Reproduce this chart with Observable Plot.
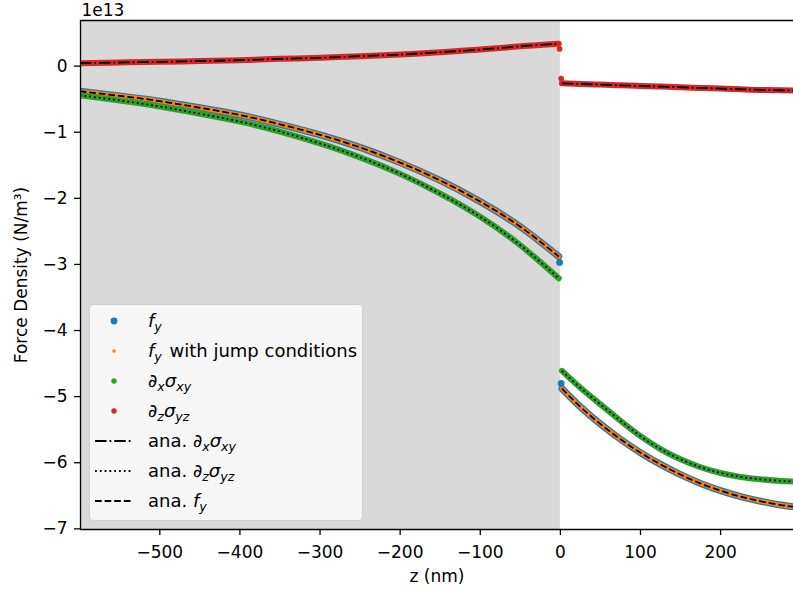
<!DOCTYPE html>
<html>
<head>
<meta charset="utf-8">
<script src="https://cdn.jsdelivr.net/npm/d3@7"></script>
<script src="https://cdn.jsdelivr.net/npm/@observablehq/plot@0.6"></script>
<style>
  html, body { margin: 0; padding: 0; background: #fff; }
  body { font-family: "DejaVu Sans", sans-serif; }
  #wrap { position: relative; width: 793px; height: 589px; overflow: hidden; }
  #legend { position: absolute; left: 89px; top: 304px; width: 274px; height: 217px;
            background: #f7f7f7; border: 1px solid #cfcfcf; border-radius: 4px; box-sizing: border-box; }
  .item { position: absolute; left: 0; height: 30px; line-height: 30px; display: flex; align-items: center;
          font-size: 18px; color: #000; white-space: nowrap; }
  .item svg { flex: none; }
  .item span.t { margin-left: 1px; }
  sub { font-size: 0.7em; vertical-align: -0.32em; line-height: 0; }
  .sp { margin-right: 2px; }
</style>
</head>
<body>
<div id="wrap"><div id="legend"></div></div>
<script>
// ---- data (force densities in units of 1e13 N/m^3) ----
const zLeft  = [-600, -550, -500, -450, -400, -350, -300, -250, -200, -150, -100, -50, -2];
const zRight = [2, 25, 50, 75, 100, 125, 150, 175, 200, 225, 250, 275, 291];

// f_y (and f_y with jump conditions; analytic f_y follows the same curve)
const fyLeft  = [-0.38, -0.45, -0.53, -0.63, -0.74, -0.88, -1.04, -1.23, -1.46, -1.73, -2.05, -2.43, -2.88];
const fyRight = [-4.88, -5.155, -5.415, -5.645, -5.848, -6.025, -6.18, -6.313, -6.423, -6.513, -6.583, -6.64, -6.666];

// d_x sigma_xy
const dxLeft  = [-0.44, -0.52, -0.61, -0.72, -0.84, -0.99, -1.17, -1.38, -1.63, -1.93, -2.28, -2.71, -3.21];
const dxRight = [-4.61, -4.865, -5.117, -5.365, -5.598, -5.793, -5.948, -6.068, -6.155, -6.215, -6.25, -6.275, -6.283];

// d_z sigma_yz
const dzLeft  = [0.045, 0.055, 0.065, 0.077, 0.09, 0.11, 0.125, 0.15, 0.175, 0.21, 0.25, 0.30, 0.34];
const dzRight = [-0.26, -0.27, -0.28, -0.29, -0.30, -0.31, -0.32, -0.33, -0.34, -0.35, -0.36, -0.365, -0.37];

// isolated interface points at z = 0
const jumpZ      = [-1, 1];
const fyJumpVals = [-2.97, -4.80];
const dzJumpVals = [0.26, -0.19];

const xTicks = [-500, -400, -300, -200, -100, 0, 100, 200];
const yTicks = [-7, -6, -5, -4, -3, -2, -1, 0];
const xDomain = [-599, 291];
const yDomain = [-7.01, 0.69];
const shadeRange = [-600, 0];

const legendItems = [
  {kind: "dot", color: "#1f77b4", r: 3.4, html: '<i class="sp">f<sub>y</sub></i>'},
  {kind: "dot", color: "#ff7f0e", r: 1.8, html: '<i class="sp">f<sub>y</sub></i> with jump conditions'},
  {kind: "dot", color: "#2ca02c", r: 2.7, html: '<i>∂<sub>x</sub>σ<sub>xy</sub></i>'},
  {kind: "dot", color: "#d62728", r: 2.7, html: '<i>∂<sub>z</sub>σ<sub>yz</sub></i>'},
  {kind: "line", dash: "11.6,2.9,1.8,2.9", html: 'ana. <i>∂<sub>x</sub>σ<sub>xy</sub></i>'},
  {kind: "line", dash: "1.8,3", html: 'ana. <i>∂<sub>z</sub>σ<sub>yz</sub></i>'},
  {kind: "line", dash: "6.7,2.9", html: 'ana. <i>f<sub>y</sub></i>'}
];

// ---- build tables ----
function seg(zs, vs, side) { return zs.map((z, i) => ({z, v: vs[i], side})); }
const fy = [...seg(zLeft, fyLeft, "L"), ...seg(zRight, fyRight, "R")];
const dx = [...seg(zLeft, dxLeft, "L"), ...seg(zRight, dxRight, "R")];
const dz = [...seg(zLeft, dzLeft, "L"), ...seg(zRight, dzRight, "R")];
const fyJ = jumpZ.map((z, i) => ({z, v: fyJumpVals[i]}));
const dzJ = jumpZ.map((z, i) => ({z, v: dzJumpVals[i]}));
const shade = [{x1: shadeRange[0], x2: shadeRange[1]}];

const lineOpts = {x: "z", y: "v", z: "side", curve: "natural", clip: true, strokeLinecap: "round"};

const chart = Plot.plot({
  width: 793, height: 589,
  marginLeft: 80, marginRight: 0, marginTop: 20, marginBottom: 60,
  x: {domain: xDomain},
  y: {domain: yDomain},
  style: {fontFamily: "'DejaVu Sans', sans-serif", fontSize: "17px", background: "white", color: "black", overflow: "visible"},
  marks: [
    Plot.rect(shade, {x1: "x1", x2: "x2", fill: "#d9d9d9", clip: true}),
    Plot.line(fy, {...lineOpts, stroke: "#1f77b4", strokeWidth: 7}),
    Plot.dot(fyJ, {x: "z", y: "v", r: 3.4, fill: "#1f77b4"}),
    Plot.line(fy, {...lineOpts, stroke: "#ff7f0e", strokeWidth: 4.5}),
    Plot.line(dx, {...lineOpts, stroke: "#2ca02c", strokeWidth: 6}),
    Plot.line(dz, {...lineOpts, stroke: "#d62728", strokeWidth: 6}),
    Plot.dot(dzJ, {x: "z", y: "v", r: 2.8, fill: "#d62728"}),
    Plot.line(dz, {...lineOpts, strokeLinecap: "butt", stroke: "black", strokeWidth: 1.8, strokeDasharray: "11.6,2.9,1.8,2.9"}),
    Plot.line(dx, {...lineOpts, strokeLinecap: "butt", stroke: "black", strokeWidth: 1.8, strokeDasharray: "1.8,3"}),
    Plot.line(fy, {...lineOpts, strokeLinecap: "butt", stroke: "black", strokeWidth: 1.8, strokeDasharray: "6.7,2.9"}),
    Plot.ruleX([xDomain[0]], {stroke: "black", strokeWidth: 1.3}),
    Plot.ruleY(yDomain, {stroke: "black", strokeWidth: 1.3}),
    Plot.axisX({ticks: xTicks, tickSize: 6, tickPadding: 10, tickFormat: d3.format("d"), label: null, strokeWidth: 1.3}),
    Plot.axisY({ticks: yTicks, tickSize: 6, tickPadding: 7, tickFormat: d3.format("d"), label: null, strokeWidth: 1.3}),
    Plot.text(["1e13"], {frameAnchor: "top-left", textAnchor: "start", lineAnchor: "middle", dy: -10, dx: 1, fontSize: 17}),
    Plot.text(["z (nm)"], {frameAnchor: "bottom", lineAnchor: "middle", dy: 47}),
    Plot.text(["Force Density (N/m³)"], {frameAnchor: "left", textAnchor: "middle", lineAnchor: "middle", rotate: -90, dx: -59})
  ]
});
document.getElementById("wrap").prepend(chart);

// ---- legend (overlay inside the axes) ----
const legend = document.getElementById("legend");
legendItems.forEach((it, i) => {
  const div = document.createElement("div");
  div.className = "item";
  div.style.top = (0.5 + 30 * i) + "px";
  let sw;
  if (it.kind === "dot") {
    sw = `<svg width="57" height="30"><circle cx="24" cy="15" r="${it.r}" fill="${it.color}"/></svg>`;
  } else {
    sw = `<svg width="57" height="30"><line x1="5" x2="42" y1="15" y2="15" stroke="black" stroke-width="1.8" stroke-dasharray="${it.dash}"/></svg>`;
  }
  div.innerHTML = sw + `<span class="t">${it.html}</span>`;
  legend.appendChild(div);
});
</script>
</body>
</html>
